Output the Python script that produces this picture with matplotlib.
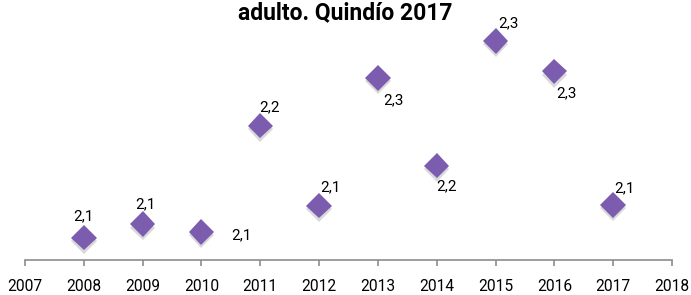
import matplotlib
matplotlib.use("Agg")
import matplotlib.pyplot as plt
import matplotlib.patheffects as pe

years = [2008, 2009, 2010, 2011, 2012, 2013, 2014, 2015, 2016, 2017]
values = [2.078, 2.095, 2.085, 2.218, 2.118, 2.278, 2.168, 2.324, 2.286, 2.119]
xticks = list(range(2007, 2019))
title = "adulto. Quindío 2017"

# label offsets in points (dx, dy)
label_offsets = [(0, 15), (2, 14), (29, -2), (7, 13), (8, 13), (11, -16), (7, -15), (9, 13), (9, -16), (8, 12)]

plt.rcParams['font.family'] = ['Roboto', 'DejaVu Sans']

fig = plt.figure(figsize=(6.91, 2.95), dpi=100)
ax = fig.add_axes([25/691, 35/295, 647/691, 235/295])

ax.plot(years, values, linestyle='none', marker='D', markersize=13,
        markerfacecolor='#7B5CAE', markeredgecolor='#7B5CAE', markeredgewidth=0,
        path_effects=[pe.SimplePatchShadow(offset=(0, -2.5), shadow_rgbFace='#555555', alpha=0.22),
                      pe.Normal()], clip_on=False, zorder=3)

for x, v, (dx, dy) in zip(years, values, label_offsets):
    ax.annotate(f"{v:.1f}".replace('.', ','), (x, v), xytext=(dx, dy),
                textcoords='offset points', ha='center', va='center', fontsize=11, color='#000000')

ax.set_xlim(2007, 2018)
ax.set_ylim(2.05, 2.344)
ax.set_xticks(xticks)
ax.set_xticklabels([str(t) for t in xticks], fontsize=11.2)
ax.set_yticks([])
for s in ['left', 'right', 'top']:
    ax.spines[s].set_visible(False)
ax.spines['bottom'].set_color('#8C8C8C')
ax.spines['bottom'].set_linewidth(1.2)
ax.tick_params(axis='x', direction='out', length=4, width=1.2, color='#8C8C8C', pad=9.5)

fig.text(0.5, 1 - 13/295, title, ha='center', va='center', fontsize=16.5, fontweight='bold')

fig.savefig("out.png", dpi=100)
